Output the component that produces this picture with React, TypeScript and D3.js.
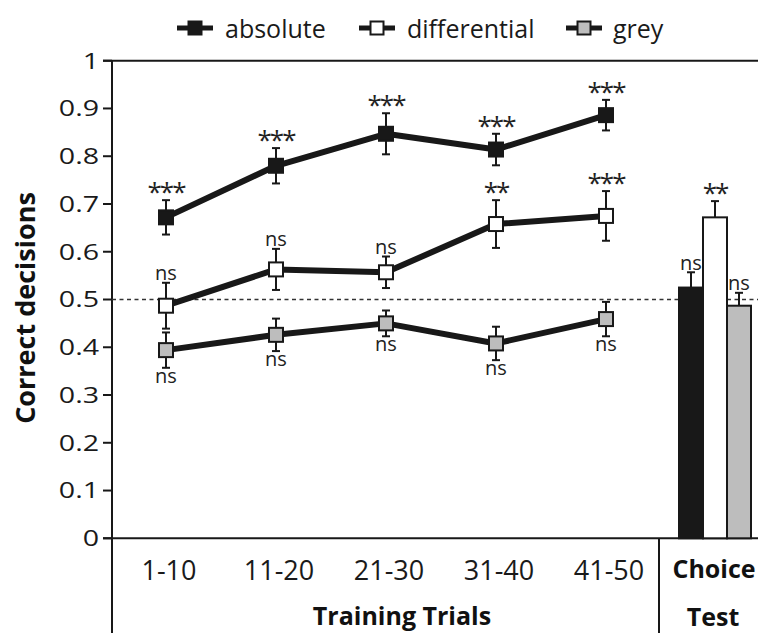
import React from "react";
import * as d3 from "d3";

// Training-phase means (proportion of correct decisions) and SEM per block
const categories = ["1-10", "11-20", "21-30", "31-40", "41-50"];
const absoluteMean = [0.672, 0.78, 0.847, 0.814, 0.886];
const absoluteErr = [0.036, 0.037, 0.043, 0.033, 0.032];
const differentialMean = [0.487, 0.563, 0.557, 0.658, 0.675];
const differentialErr = [0.048, 0.043, 0.033, 0.05, 0.052];
const greyMean = [0.394, 0.426, 0.45, 0.408, 0.459];
const greyErr = [0.037, 0.034, 0.027, 0.035, 0.036];

const absoluteSig = ["***", "***", "***", "***", "***"];
const differentialSig = ["ns", "ns", "ns", "**", "***"];
const greySig = ["ns", "ns", "ns", "ns", "ns"];

// Choice test
const testGroups = ["absolute", "differential", "grey"];
const testMean = [0.525, 0.672, 0.487];
const testErr = [0.032, 0.034, 0.027];
const testSig = ["ns", "**", "ns"];

const yTicks = [0, 0.1, 0.2, 0.3, 0.4, 0.5, 0.6, 0.7, 0.8, 0.9, 1];
const yTickLabels = ["0", "0.1", "0.2", "0.3", "0.4", "0.5", "0.6", "0.7", "0.8", "0.9", "1"];

const BLACK = "#181818";
const GREY = "#bdbdbd";
const WHITE = "#ffffff";
const FONT = "'Open Sans', sans-serif";

const W = 758;
const H = 633;
const axisX = 112;

const y = d3.scaleLinear().domain([0, 1]).range([538.3, 60.7]);
const x = d3.scalePoint<string>().domain(categories).range([166, 606]);
const xb = d3.scaleBand<string>().domain(testGroups).range([679, 751]).padding(0);

const series = [
  { name: "absolute", mean: absoluteMean, err: absoluteErr, sig: absoluteSig, fill: BLACK, below: false },
  { name: "differential", mean: differentialMean, err: differentialErr, sig: differentialSig, fill: WHITE, below: false },
  { name: "grey", mean: greyMean, err: greyErr, sig: greySig, fill: GREY, below: true },
];
const testFills = [BLACK, WHITE, GREY];

const line = d3
  .line<number>()
  .x((_, i) => x(categories[i]) as number)
  .y((d) => y(d));

function SigLabel({ cx, top, bottom, text, below }: { cx: number; top: number; bottom: number; text: string; below?: boolean }) {
  const stars = text.includes("*");
  if (below) {
    return (
      <text x={cx} y={bottom + 15} textAnchor="middle" fontSize={20} fontFamily={FONT} fill="#222">
        {text}
      </text>
    );
  }
  if (stars) {
    return (
      <text x={cx} y={top + 1} textAnchor="middle" fontSize={26} letterSpacing={-2} fontFamily={FONT} fill="#222">
        {text}
      </text>
    );
  }
  return (
    <text x={cx} y={top - 2.5} textAnchor="middle" fontSize={20} fontFamily={FONT} fill="#222">
      {text}
    </text>
  );
}

function ErrorBar({ cx, y0, y1 }: { cx: number; y0: number; y1: number }) {
  return (
    <g stroke={BLACK} strokeWidth={2}>
      <line x1={cx} x2={cx} y1={y0} y2={y1} />
      <line x1={cx - 4} x2={cx + 4} y1={y0} y2={y0} />
      <line x1={cx - 4} x2={cx + 4} y1={y1} y2={y1} />
    </g>
  );
}

export default function App() {
  const legend = [
    { label: "absolute", fill: BLACK, lx: 177, tx: 225 },
    { label: "differential", fill: WHITE, lx: 359, tx: 407 },
    { label: "grey", fill: GREY, lx: 566, tx: 613 },
  ];
  return (
    <svg width={W} height={H} style={{ position: "absolute", left: 0, top: 0, background: "#fff" }}>
      {/* legend */}
      {legend.map((l) => (
        <g key={l.label}>
          <line x1={l.lx} x2={l.lx + 36} y1={28} y2={28} stroke={BLACK} strokeWidth={5} />
          <rect x={l.lx + 11.5} y={21.5} width={13} height={13} fill={l.fill} stroke={BLACK} strokeWidth={2} />
          <text x={l.tx} y={38} fontSize={25} fontFamily={FONT} fill="#1a1a1a">
            {l.label}
          </text>
        </g>
      ))}

      {/* frame and axes */}
      <line x1={axisX - 9} x2={W} y1={y(1)} y2={y(1)} stroke={BLACK} strokeWidth={2} />
      <line x1={axisX - 9} x2={W} y1={y(0)} y2={y(0)} stroke={BLACK} strokeWidth={2} />
      <line x1={axisX} x2={axisX} y1={y(1)} y2={H} stroke={BLACK} strokeWidth={2} />
      <line x1={659} x2={659} y1={y(0)} y2={H} stroke={BLACK} strokeWidth={2} />
      {yTicks.map((t, i) => (
        <g key={t}>
          <line x1={axisX - 9} x2={axisX} y1={y(t)} y2={y(t)} stroke={BLACK} strokeWidth={2} />
          <text
            transform={`translate(99, ${y(t)}) scale(1.3, 1)`}
            dy="0.36em"
            textAnchor="end"
            fontSize={22}
            fontFamily={FONT}
            fill="#1a1a1a"
          >
            {yTickLabels[i]}
          </text>
        </g>
      ))}

      {/* chance level */}
      <line
        x1={axisX}
        x2={W}
        y1={y(0.5)}
        y2={y(0.5)}
        stroke="#333"
        strokeWidth={1.5}
        strokeDasharray="4 3.5"
      />

      {/* x labels */}
      {categories.map((c) => (
        <text key={c} x={(x(c) as number) + 3} y={580} textAnchor="middle" fontSize={27} fontFamily={FONT} fill="#1a1a1a">
          {c}
        </text>
      ))}
      <text x={402} y={625} textAnchor="middle" fontSize={25} fontWeight="bold" fontFamily={FONT} fill="#111">
        Training Trials
      </text>
      <text x={714} y={578} textAnchor="middle" fontSize={25} fontWeight="bold" fontFamily={FONT} fill="#111">
        Choice
      </text>
      <text x={713} y={626} textAnchor="middle" fontSize={25} fontWeight="bold" fontFamily={FONT} fill="#111">
        Test
      </text>

      {/* y title */}
      <text
        transform={`translate(35, 308) rotate(-90)`}
        textAnchor="middle"
        fontSize={27}
        fontWeight="bold"
        fontFamily={FONT}
        fill="#111"
      >
        Correct decisions
      </text>

      {/* training lines */}
      {series.map((s) => (
        <path key={s.name} d={line(s.mean) || ""} fill="none" stroke={BLACK} strokeWidth={6} strokeLinejoin="round" />
      ))}
      {series.map((s) =>
        s.mean.map((m, i) => (
          <ErrorBar key={s.name + i} cx={x(categories[i]) as number} y0={y(m + s.err[i])} y1={y(m - s.err[i])} />
        ))
      )}
      {series.map((s) =>
        s.mean.map((m, i) => (
          <rect
            key={s.name + "m" + i}
            x={(x(categories[i]) as number) - 7}
            y={y(m) - 7}
            width={14}
            height={14}
            fill={s.fill}
            stroke={BLACK}
            strokeWidth={2}
          />
        ))
      )}
      {series.map((s) =>
        s.mean.map((m, i) => (
          <SigLabel
            key={s.name + "s" + i}
            cx={x(categories[i]) as number}
            top={y(m + s.err[i])}
            bottom={y(m - s.err[i])}
            text={s.sig[i]}
            below={s.below}
          />
        ))
      )}

      {/* choice test bars */}
      {testGroups.map((g, i) => {
        const bx = xb(g) as number;
        const bw = xb.bandwidth();
        const cx = bx + bw / 2;
        const top = y(testMean[i] + testErr[i]);
        return (
          <g key={g}>
            <line x1={cx} x2={cx} y1={top} y2={y(testMean[i])} stroke={BLACK} strokeWidth={2} />
            <line x1={cx - 4} x2={cx + 4} y1={top} y2={top} stroke={BLACK} strokeWidth={2} />
            <rect
              x={bx}
              y={y(testMean[i])}
              width={bw}
              height={y(0) - y(testMean[i])}
              fill={testFills[i]}
              stroke={BLACK}
              strokeWidth={2}
            />
            <SigLabel cx={cx} top={top} bottom={top} text={testSig[i]} />
          </g>
        );
      })}
    </svg>
  );
}
